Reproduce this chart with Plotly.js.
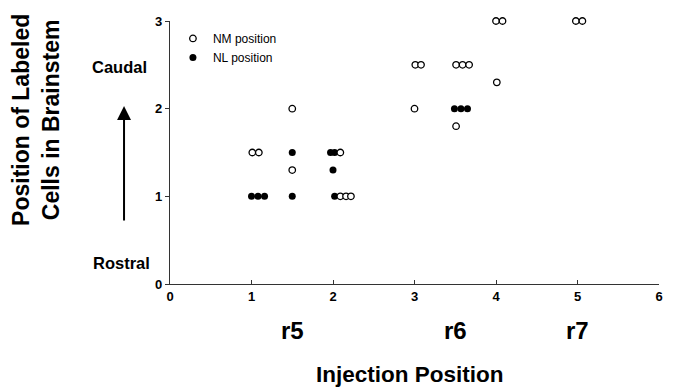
<!DOCTYPE html>
<html>
<head>
<meta charset="utf-8">
<script src="https://cdn.plot.ly/plotly-3.0.1.min.js"></script>
<style>html,body{margin:0;padding:0;background:#fff;}#chart{width:674px;height:388px;}</style>
</head>
<body>
<div id="chart"></div>
<script>
// NM position (open circles)
const nmX = [1.01, 1.09, 1.50, 1.50, 2.09, 2.09, 2.16, 2.22, 3.00, 3.01, 3.08, 3.51, 3.59, 3.67, 3.51, 4.00, 4.08, 4.01, 4.98, 5.06];
const nmY = [1.5,  1.5,  2.0,  1.3,  1.5,  1.0,  1.0,  1.0,  2.0,  2.5,  2.5,  2.5,  2.5,  2.5,  1.8,  3.0,  3.0,  2.3,  3.0,  3.0];
// NL position (filled circles)
const nlX = [1.00, 1.08, 1.16, 1.50, 1.50, 1.97, 2.02, 2.00, 2.02, 3.49, 3.57, 3.65];
const nlY = [1.0,  1.0,  1.0,  1.0,  1.5,  1.5,  1.5,  1.3,  1.0,  2.0,  2.0,  2.0];
// rhombomere labels under the x axis
const rhombLabels = ['r5', 'r6', 'r7'];
const rhombX = [1.5, 3.5, 5.0];
const xTicks = [0, 1, 2, 3, 4, 5, 6];
const yTicks = [0, 1, 2, 3];

const FONT = 'Liberation Sans, Arial, Helvetica, sans-serif';

const traces = [
  {
    x: nlX, y: nlY, type: 'scatter', mode: 'markers', name: 'NL position',
    legendrank: 2, cliponaxis: false,
    marker: {symbol: 'circle', size: 7, color: '#000', line: {width: 0}}
  },
  {
    x: nmX, y: nmY, type: 'scatter', mode: 'markers', name: 'NM position',
    legendrank: 1, cliponaxis: false,
    marker: {symbol: 'circle', size: 6.5, color: '#fff', line: {width: 1.3, color: '#000'}}
  }
];

const annotations = rhombLabels.map((t, i) => ({
  text: '<b>' + t + '</b>', x: rhombX[i], xref: 'x', y: -0.175, yref: 'paper',
  showarrow: false, xanchor: 'center', yanchor: 'middle',
  font: {family: FONT, size: 24, color: '#000'}
}));
annotations.push(
  {text: '<b>Position of Labeled<br>Cells in Brainstem</b>', textangle: -90,
   x: -0.274, xref: 'paper', y: 0.624, yref: 'paper', showarrow: false,
   xanchor: 'center', yanchor: 'middle', align: 'center',
   font: {family: FONT, size: 23, color: '#000'}},
  {text: '<b>Caudal</b>', x: -0.104, xref: 'paper', y: 0.825, yref: 'paper',
   showarrow: false, xanchor: 'center', yanchor: 'middle',
   font: {family: FONT, size: 16.5, color: '#000'}},
  {text: '<b>Rostral</b>', x: -0.1, xref: 'paper', y: 0.08, yref: 'paper',
   showarrow: false, xanchor: 'center', yanchor: 'middle',
   font: {family: FONT, size: 16.5, color: '#000'}},
  {text: '', x: -0.094, xref: 'paper', y: 0.677, yref: 'paper',
   showarrow: true, ax: 0, ay: 116, arrowhead: 2, arrowsize: 1.4, arrowwidth: 2,
   arrowcolor: '#000', standoff: 0, startstandoff: 0},
  {text: '<b>Injection Position</b>', x: 0.49, xref: 'paper', y: -0.343, yref: 'paper',
   showarrow: false, xanchor: 'center', yanchor: 'middle',
   font: {family: FONT, size: 22.5, color: '#000'}}
);

const layout = {
  width: 674, height: 388,
  margin: {l: 170, r: 15, t: 21, b: 104},
  paper_bgcolor: '#fff', plot_bgcolor: '#fff',
  font: {family: FONT, color: '#000'},
  showlegend: true,
  legend: {x: 0.006, y: 0.989, xanchor: 'left', yanchor: 'top',
           bgcolor: 'rgba(0,0,0,0)', font: {family: FONT, size: 12, color: '#000'},
           itemwidth: 30, tracegroupgap: 0},
  xaxis: {
    range: [0, 6], tickvals: xTicks, ticktext: xTicks.map(String),
    showgrid: false, zeroline: false, showline: true, linecolor: '#333', linewidth: 1.3,
    ticks: 'inside', ticklen: 4, tickcolor: '#333', tickwidth: 1,
    tickfont: {family: FONT, size: 13, color: '#000', weight: 'bold'},
    fixedrange: true
  },
  yaxis: {
    range: [0, 3], tickvals: yTicks, ticktext: yTicks.map(String),
    showgrid: false, zeroline: false, showline: true, linecolor: '#333', linewidth: 1.2,
    ticks: 'outside', ticklen: 4, tickcolor: '#333', tickwidth: 1,
    tickfont: {family: FONT, size: 13, color: '#000', weight: 'bold'},
    fixedrange: true
  },
  annotations: annotations
};

Plotly.newPlot('chart', traces, layout, {staticPlot: true, displayModeBar: false});
</script>
</body>
</html>
